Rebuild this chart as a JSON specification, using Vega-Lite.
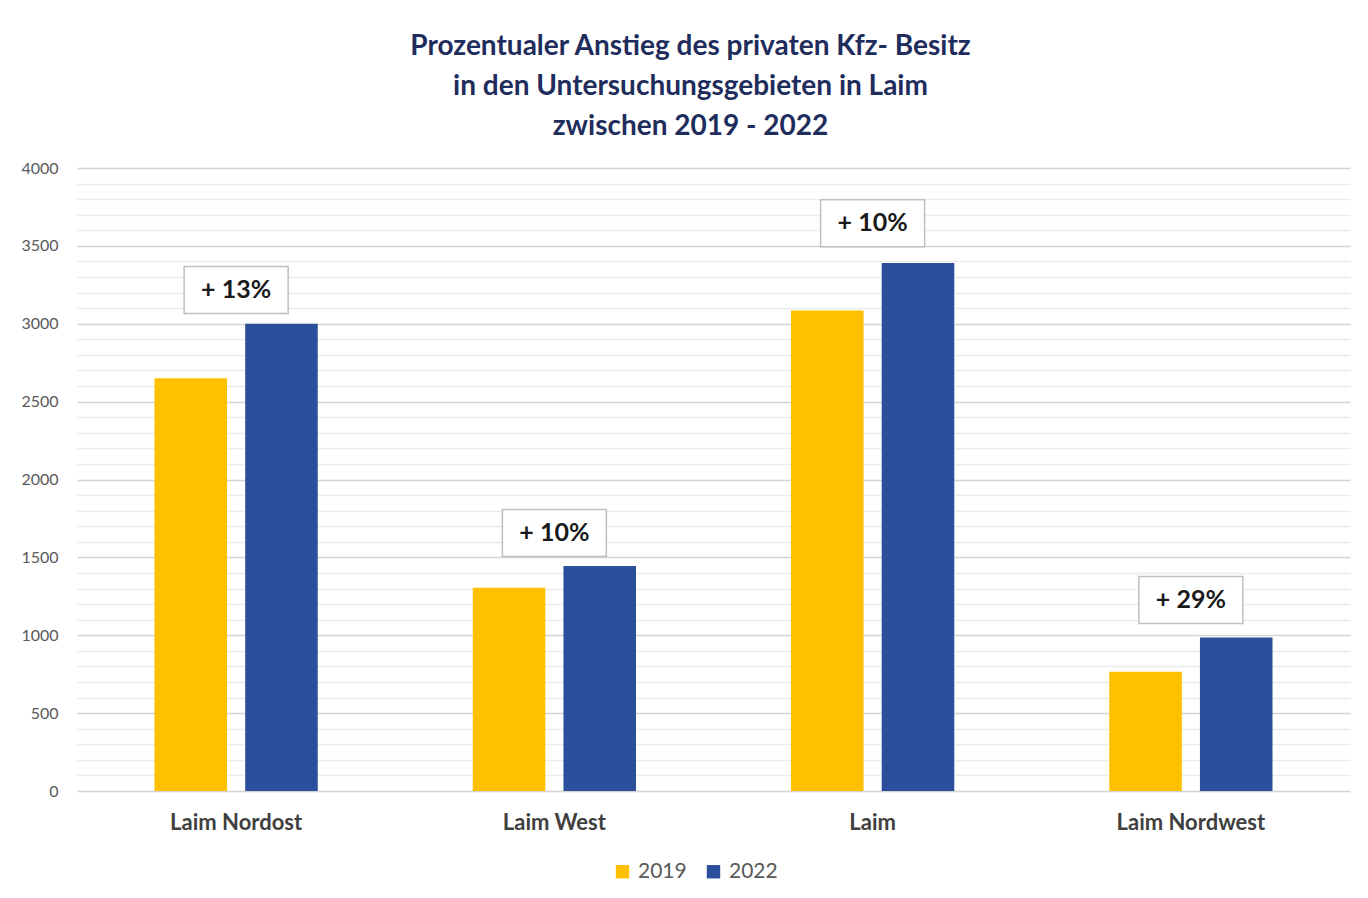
{
  "$schema": "https://vega.github.io/schema/vega-lite/v6.json",
  "width": 1273,
  "height": 623,
  "autosize": {"type": "none"},
  "padding": {"left": 77, "top": 168, "right": 18, "bottom": 107},
  "background": "white",
  "config": {"view": {"stroke": null}},
  "title": {
    "text": ["Prozentualer Anstieg des privaten Kfz- Besitz", "in den Untersuchungsgebieten in Laim", "zwischen 2019 - 2022"],
    "font": "Lato",
    "fontSize": 28,
    "fontWeight": "bold",
    "color": "#1F2D5C",
    "lineHeight": 40,
    "anchor": "middle",
    "offset": 19,
    "dx": -23
  },
  "datasets": {
    "bars": [
      {"Gebiet": "Laim Nordost", "Jahr": "2019", "Anzahl": 2650},
      {"Gebiet": "Laim Nordost", "Jahr": "2022", "Anzahl": 3000},
      {"Gebiet": "Laim West", "Jahr": "2019", "Anzahl": 1305},
      {"Gebiet": "Laim West", "Jahr": "2022", "Anzahl": 1445},
      {"Gebiet": "Laim", "Jahr": "2019", "Anzahl": 3085},
      {"Gebiet": "Laim", "Jahr": "2022", "Anzahl": 3390},
      {"Gebiet": "Laim Nordwest", "Jahr": "2019", "Anzahl": 765},
      {"Gebiet": "Laim Nordwest", "Jahr": "2022", "Anzahl": 985}
    ],
    "labels": [
      {"Gebiet": "Laim Nordost", "Label": "+ 13%", "Anzahl": 3216},
      {"Gebiet": "Laim West", "Label": "+ 10%", "Anzahl": 1656},
      {"Gebiet": "Laim", "Label": "+ 10%", "Anzahl": 3646},
      {"Gebiet": "Laim Nordwest", "Label": "+ 29%", "Anzahl": 1226}
    ]
  },
  "encoding": {
    "x": {
      "field": "Gebiet",
      "type": "nominal",
      "sort": ["Laim Nordost", "Laim West", "Laim", "Laim Nordwest"],
      "scale": {"paddingInner": 0.487, "paddingOuter": 0.2435},
      "axis": {
        "title": null,
        "labelAngle": 0,
        "domain": false,
        "ticks": false,
        "labelFont": "Lato",
        "labelFontSize": 22,
        "labelFontWeight": "bold",
        "labelColor": "#404040",
        "labelPadding": 21
      }
    },
    "y": {
      "field": "Anzahl",
      "type": "quantitative",
      "scale": {"domain": [0, 4000], "nice": false},
      "axis": {
        "title": null,
        "domain": false,
        "ticks": false,
        "values": [0,100,200,300,400,500,600,700,800,900,1000,1100,1200,1300,1400,1500,1600,1700,1800,1900,2000,2100,2200,2300,2400,2500,2600,2700,2800,2900,3000,3100,3200,3300,3400,3500,3600,3700,3800,3900,4000],
        "labelExpr": "datum.value % 500 === 0 ? datum.label : ''",
        "format": "d",
        "grid": true,
        "gridColor": {"condition": {"test": "datum.value % 500 === 0", "value": "#d4d4d4"}, "value": "#ececec"},
        "gridWidth": 1.3,
        "labelFont": "Lato",
        "labelFontSize": 16,
        "labelColor": "#595959",
        "labelPadding": 19
      }
    }
  },
  "layer": [
    {
      "data": {"name": "bars"},
      "mark": {"type": "bar"},
      "encoding": {
        "xOffset": {"field": "Jahr", "type": "nominal", "scale": {"paddingInner": 0.2, "paddingOuter": 0}},
        "color": {
          "field": "Jahr",
          "type": "nominal",
          "scale": {"domain": ["2019", "2022"], "range": ["#FFC000", "#2B4F9A"]},
          "legend": {
            "title": null,
            "orient": "none",
            "legendX": 535,
            "legendY": 693,
            "direction": "horizontal",
            "symbolType": "square",
            "symbolSize": 180,
            "symbolStrokeWidth": 0,
            "labelFont": "Lato",
            "labelFontSize": 21,
            "labelColor": "#595959",
            "columnPadding": 16,
            "labelOffset": 5
          }
        }
      }
    },
    {
      "data": {"name": "labels"},
      "mark": {
        "type": "point",
        "shape": "M-1,-0.452H1V0.452H-1Z",
        "size": 10816,
        "filled": true,
        "fill": "white",
        "stroke": "#bfbfbf",
        "strokeWidth": 1.5,
        "opacity": 1
      }
    },
    {
      "data": {"name": "labels"},
      "mark": {
        "type": "text",
        "font": "Lato",
        "fontSize": 25,
        "fontWeight": "bold",
        "color": "#1a1a1a",
        "align": "center",
        "baseline": "middle"
      },
      "encoding": {
        "text": {"field": "Label"}
      }
    }
  ]
}
